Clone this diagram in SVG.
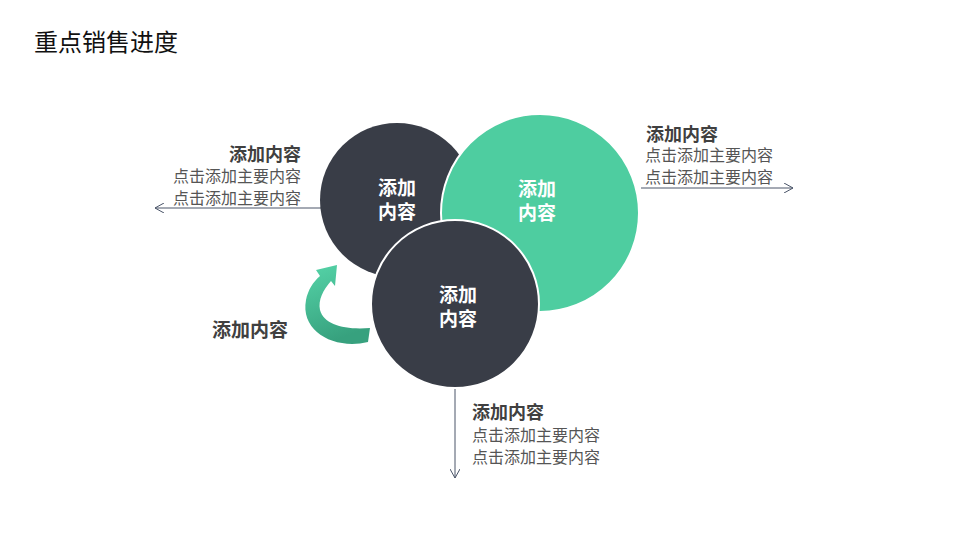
<svg xmlns="http://www.w3.org/2000/svg" width="960" height="540" viewBox="0 0 960 540">
<style>
text{font-family:"Noto Sans CJK SC","Liberation Sans",sans-serif}
.t{font-size:24px;fill:#111}
.h{font-size:18px;font-weight:bold;fill:#404040}
.b{font-size:16px;fill:#555}
.c{font-size:19px;font-weight:bold;fill:#fff;text-anchor:middle}
.ln{stroke:#4a5468;stroke-width:1;fill:none}
</style>
<defs>
<marker id="ah" viewBox="0 0 10 10" refX="9" refY="5" markerWidth="10" markerHeight="10" markerUnits="userSpaceOnUse" orient="auto">
<path d="M0,0 L9,5 L0,10" fill="none" stroke="#4a5468" stroke-width="1"/>
</marker>
<linearGradient id="g" x1="0" y1="0" x2="0.3" y2="1">
<stop offset="0" stop-color="#55d4a8"/>
<stop offset="1" stop-color="#37a17e"/>
</linearGradient>
</defs>
<rect width="960" height="540" fill="#fff"/>
<text class="t" x="34" y="51">重点销售进度</text>
<g id="connectors">
<line class="ln" x1="322" y1="208" x2="155" y2="208" marker-end="url(#ah)"/>
<line class="ln" x1="641" y1="188" x2="793" y2="188" marker-end="url(#ah)"/>
<line class="ln" x1="455" y1="387" x2="455" y2="478" marker-end="url(#ah)"/>
<path d="M368,342 C335,350 300,332 306,300 C308,290 313,282 320,276 L316,270 L337,265 L335,286 L331,281 C323,290 318,300 320,310 C324,325 345,330 370,328 Z" fill="url(#g)"/>
</g>
<g id="circle1">
<circle cx="397" cy="200" r="77" fill="#393d47"/>
<text class="c" x="397" y="195">添加</text>
<text class="c" x="397" y="219">内容</text>
</g>
<g id="circle2">
<circle cx="540" cy="213" r="99" fill="#4ecda0" stroke="#fff" stroke-width="2"/>
<text class="c" x="537" y="196">添加</text>
<text class="c" x="537" y="220">内容</text>
</g>
<g id="circle3">
<circle cx="455" cy="304" r="84" fill="#393d47" stroke="#fff" stroke-width="2"/>
<text class="c" x="458" y="302">添加</text>
<text class="c" x="458" y="326">内容</text>
</g>
<g id="label-left" text-anchor="end">
<text class="h" x="301" y="161">添加内容</text>
<text class="b" x="301" y="182">点击添加主要内容</text>
<text class="b" x="301" y="204">点击添加主要内容</text>
</g>
<g id="label-right">
<text class="h" x="646" y="141">添加内容</text>
<text class="b" x="645" y="161">点击添加主要内容</text>
<text class="b" x="645" y="183">点击添加主要内容</text>
</g>
<g id="label-bottom">
<text class="h" x="472" y="419">添加内容</text>
<text class="b" x="472" y="441">点击添加主要内容</text>
<text class="b" x="472" y="463">点击添加主要内容</text>
</g>
<g id="label-arrow">
<text class="h" x="212" y="337" style="font-size:19px">添加内容</text>
</g>
</svg>
